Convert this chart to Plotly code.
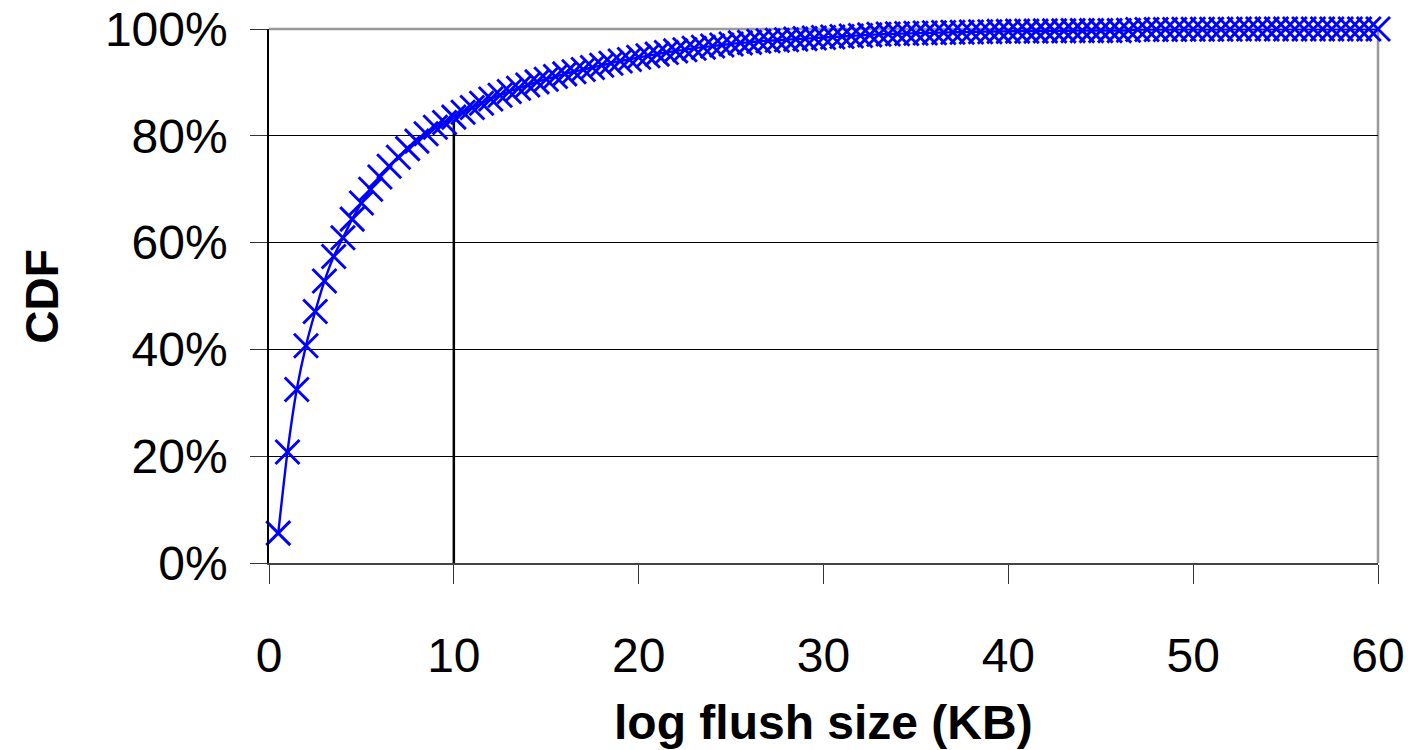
import plotly.graph_objects as go

# flush size (KB) and CDF (%)
flush_kb = [0.5 * i for i in range(1, 121)]
cdf_pct = [
    5.6, 20.8, 32.5, 40.7, 47.1, 52.8, 57.4, 60.9, 64.4, 67.4,
    70.0, 72.3, 74.3, 76.0, 77.6, 79.0, 80.4, 81.6, 82.5, 83.5,
    84.4, 85.3, 86.1, 86.9, 87.6, 88.3, 88.9, 89.5, 90.1, 90.6,
    91.1, 91.6, 92.0, 92.4, 92.8, 93.2, 93.6, 94.0, 94.3, 94.7,
    95.0, 95.3, 95.6, 95.9, 96.1, 96.4, 96.6, 96.8, 97.0, 97.2,
    97.4, 97.5, 97.7, 97.8, 97.9, 98.0, 98.1, 98.2, 98.3, 98.4,
    98.5, 98.6, 98.7, 98.8, 98.9, 99.0, 99.05, 99.1, 99.15, 99.2,
    99.25, 99.3, 99.35, 99.4, 99.4, 99.45, 99.5, 99.5, 99.55, 99.55,
    99.6, 99.6, 99.6, 99.65, 99.65, 99.65, 99.7, 99.7, 99.7, 99.7,
    99.7, 99.7, 99.75, 99.9, 99.9, 99.9, 99.9, 99.9, 99.95, 99.95,
    99.95, 99.95, 99.95, 99.95, 100, 100, 100, 100, 100, 100,
    100, 100, 100, 100, 100, 100, 100, 100, 100, 100,
]
marker_x = [10, 10]
marker_y = [0, 83]

x_ticks = [0, 10, 20, 30, 40, 50, 60]
y_ticks = [0, 20, 40, 60, 80, 100]
y_tick_labels = ["0%", "20%", "40%", "60%", "80%", "100%"]

FONT = "Liberation Sans, Arial, sans-serif"

fig = go.Figure()
fig.add_trace(go.Scatter(
    x=marker_x, y=marker_y, mode="lines",
    line=dict(color="black", width=2.5), showlegend=False, hoverinfo="skip",
))
fig.add_trace(go.Scatter(
    x=flush_kb, y=cdf_pct, mode="lines+markers", cliponaxis=False,
    line=dict(color="#0000FF", width=2.4, shape="spline", smoothing=0.6),
    marker=dict(symbol="x-thin-open", size=24, line=dict(color="#0000FF", width=2.9)),
    showlegend=False,
))

fig.update_layout(
    width=1408, height=750,
    margin=dict(l=269, r=30, t=29, b=187, autoexpand=False),
    paper_bgcolor="white", plot_bgcolor="white",
    font=dict(family=FONT, color="black"),
)
fig.update_xaxes(
    range=[0, 60], tickvals=x_ticks, ticks="outside", ticklen=19, tickcolor="#333",
    tickwidth=1, showgrid=False, zeroline=False, automargin=False,
    showline=True, linecolor="#444", linewidth=2, mirror=False,
    tickfont=dict(size=48, family=FONT), ticklabelstandoff=30,
)
fig.update_yaxes(
    range=[0, 100], tickvals=y_ticks, ticktext=y_tick_labels, ticks="outside",
    ticklen=17, tickcolor="#333", tickwidth=1, automargin=False,
    showgrid=True, gridcolor="black", gridwidth=1, zeroline=False,
    showline=True, linecolor="black", linewidth=1.5,
    tickfont=dict(size=48, family=FONT), ticklabelstandoff=13,
)
# grey top and right frame
fig.add_shape(type="line", xref="paper", yref="paper", x0=0, x1=1, y0=1, y1=1,
              line=dict(color="#999999", width=2.5), layer="below")
fig.add_shape(type="line", xref="paper", yref="paper", x0=1, x1=1, y0=0, y1=1,
              line=dict(color="#999999", width=2.5), layer="below")
# axis titles
fig.add_annotation(text="<b>log flush size (KB)</b>", xref="paper", yref="paper",
                   x=0.5, y=-0.298, yanchor="middle", xanchor="center", showarrow=False,
                   font=dict(size=48, family=FONT))
fig.add_annotation(text="<b>CDF</b>", xref="paper", yref="paper",
                   x=-0.205, y=0.5, xanchor="center", yanchor="middle", showarrow=False,
                   textangle=-90, font=dict(size=46, family=FONT))

fig.write_html("out.html", config={"displayModeBar": False},
               post_script="document.body.style.margin='0';")
